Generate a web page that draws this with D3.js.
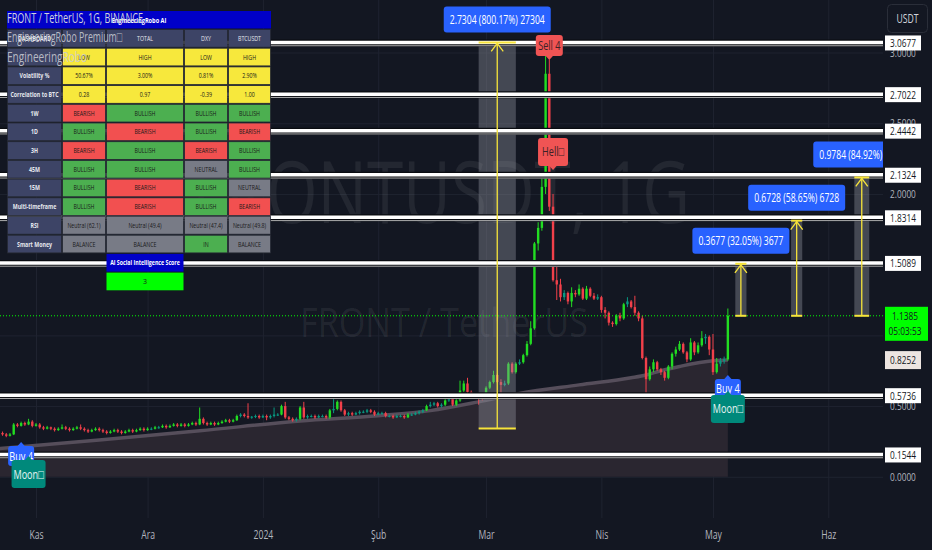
<!DOCTYPE html>
<html><head><meta charset="utf-8">
<script src="https://cdn.jsdelivr.net/npm/d3@7/dist/d3.min.js"></script>
<style>html,body{margin:0;padding:0;background:#131722;overflow:hidden}svg{display:block;font-family:"Open Sans",sans-serif}</style>
</head><body><svg id="chart" width="932" height="550"></svg>
<script>
// ---------------- DATA ----------------
const firstDay = "2023-10-23";
const firstOpen = 0.31;
const closes = [0.30,0.29,0.30,0.37,0.36,0.38,0.37,0.39,0.36,
0.37,0.35,0.34,0.35,0.34,0.33,0.34,0.35,0.34,0.33,
0.34,0.35,0.34,0.33,0.32,0.33,0.34,0.33,0.32,0.31,
0.32,0.33,0.32,0.31,0.32,0.33,0.32,0.33,0.34,0.33,
0.34,0.34,0.35,0.35,0.36,0.35,0.36,0.37,0.36,0.37,
0.36,0.37,0.38,0.37,0.41,0.38,0.37,0.38,0.37,0.38,
0.39,0.40,0.39,0.40,0.43,0.44,0.43,0.42,0.425,0.43,
0.42,0.43,0.42,0.43,0.44,0.44,0.50,0.42,0.41,0.40,
0.41,0.49,0.42,0.43,0.43,0.42,0.43,0.43,0.42,0.47,
0.48,0.53,0.47,0.44,0.45,0.44,0.45,0.46,0.46,0.47,
0.46,0.44,0.45,0.45,0.43,0.43,0.42,0.43,0.43,0.42,
0.44,0.44,0.45,0.46,0.47,0.50,0.51,0.52,0.50,0.51,
0.54,0.55,0.51,0.54,0.61,0.66,0.60,0.58,0.57,0.56,
0.555,0.63,0.67,0.72,0.67,0.65,0.66,0.80,0.74,0.80,
0.81,0.86,0.94,1.05,1.65,1.76,2.05,2.85,1.91,1.39,
1.36,1.27,1.30,1.24,1.30,1.29,1.33,1.26,1.33,1.28,
1.26,1.27,1.18,1.16,1.09,1.08,1.14,1.12,1.22,1.24,
1.20,1.16,1.12,0.84,0.69,0.76,0.81,0.76,0.74,0.70,
0.78,0.87,0.90,0.94,0.88,0.83,0.95,0.88,0.93,0.98,
0.99,0.90,0.74,0.80,0.82,0.83,1.1385];
const highs = [0.32,0.31,0.31,0.38,0.38,0.39,0.39,0.41,0.40,
0.38,0.38,0.36,0.36,0.355,0.35,0.35,0.37,0.36,0.35,
0.35,0.36,0.37,0.35,0.34,0.34,0.35,0.35,0.34,0.33,
0.33,0.34,0.34,0.33,0.33,0.34,0.34,0.34,0.35,0.35,
0.35,0.35,0.36,0.36,0.37,0.37,0.37,0.38,0.38,0.38,
0.38,0.38,0.39,0.39,0.49,0.42,0.39,0.39,0.39,0.39,
0.40,0.41,0.41,0.41,0.44,0.45,0.45,0.52,0.43,0.44,
0.44,0.44,0.44,0.44,0.49,0.45,0.51,0.53,0.43,0.42,
0.42,0.50,0.53,0.44,0.44,0.44,0.44,0.44,0.44,0.48,
0.58,0.54,0.54,0.48,0.46,0.46,0.46,0.47,0.47,0.48,
0.48,0.47,0.46,0.46,0.46,0.44,0.44,0.44,0.44,0.44,
0.45,0.45,0.46,0.47,0.48,0.51,0.53,0.53,0.53,0.52,
0.55,0.59,0.56,0.55,0.68,0.68,0.70,0.61,0.59,0.58,
0.57,0.64,0.68,0.75,0.73,0.69,0.68,0.81,0.81,0.81,
0.83,0.87,0.96,1.10,1.66,1.80,2.15,3.07,2.95,2.00,
1.50,1.40,1.32,1.31,1.34,1.32,1.36,1.34,1.35,1.34,
1.30,1.29,1.28,1.20,1.17,1.10,1.15,1.16,1.23,1.27,
1.25,1.28,1.17,1.14,0.85,0.78,0.83,0.82,0.77,0.75,
0.79,0.88,0.92,0.96,0.95,0.89,0.98,0.96,0.95,1.03,
1.01,1.00,1.01,0.84,0.84,0.85,1.19];
const lows = [0.29,0.28,0.285,0.295,0.35,0.355,0.36,0.365,0.35,
0.355,0.34,0.33,0.335,0.33,0.32,0.325,0.335,0.33,0.32,
0.325,0.335,0.33,0.32,0.31,0.315,0.325,0.32,0.31,0.30,
0.305,0.315,0.31,0.30,0.305,0.315,0.31,0.315,0.325,0.32,
0.325,0.33,0.335,0.34,0.345,0.34,0.345,0.355,0.35,0.355,
0.35,0.355,0.365,0.36,0.365,0.37,0.36,0.365,0.36,0.365,
0.375,0.385,0.38,0.385,0.395,0.42,0.42,0.41,0.41,0.415,
0.41,0.415,0.40,0.41,0.42,0.43,0.435,0.41,0.40,0.39,
0.39,0.40,0.41,0.41,0.42,0.41,0.415,0.42,0.41,0.41,
0.45,0.47,0.46,0.43,0.43,0.43,0.435,0.44,0.45,0.45,
0.45,0.43,0.435,0.44,0.42,0.42,0.41,0.415,0.42,0.41,
0.415,0.43,0.435,0.44,0.45,0.465,0.49,0.50,0.49,0.49,
0.50,0.53,0.50,0.50,0.53,0.60,0.59,0.57,0.56,0.51,
0.54,0.55,0.62,0.66,0.66,0.58,0.64,0.65,0.73,0.73,
0.79,0.80,0.85,0.93,1.04,1.60,1.74,2.00,1.88,1.38,
1.25,1.24,1.25,1.22,1.20,1.27,1.28,1.25,1.25,1.27,
1.25,1.25,1.16,1.12,1.07,1.06,1.07,1.10,1.11,1.20,
1.19,1.14,1.10,0.83,0.58,0.68,0.74,0.75,0.72,0.68,
0.69,0.76,0.85,0.89,0.87,0.81,0.82,0.86,0.87,0.92,
0.94,0.86,0.72,0.73,0.78,0.80,0.82];

const maDates = ["2023-10-22","2023-11-18","2023-12-15","2024-01-11","2024-02-01","2024-02-15","2024-02-28","2024-03-10","2024-03-26","2024-04-09","2024-04-13","2024-04-17","2024-04-22","2024-05-01","2024-05-05"];
const maValues = [0.20,0.26,0.325,0.395,0.432,0.468,0.53,0.59,0.65,0.70,0.72,0.75,0.78,0.82,0.8252];

const levelValues = [3.0677,2.7022,2.4442,2.1324,1.8314,1.5089,0.5736,0.1544];
const lastPrice = 1.1385, lastCountdown = "05:03:53", maLast = 0.8252;
const priceTicks = [0,0.5,1,1.5,2,2.5,3];
const monthTicks = ["2023-11-01","2023-12-01","2024-01-01","2024-02-01","2024-03-01","2024-04-01","2024-05-01","2024-06-01"];
const monthLabels = ["Kas","Ara","2024","Şub","Mar","Nis","May","Haz"];

const measureFrom = ["2024-02-28","2024-05-07","2024-05-22","2024-06-08"];
const measureTo   = ["2024-03-09","2024-05-10","2024-05-25","2024-06-12"];
const measureLow  = [0.3412,1.1385,1.1385,1.1385];
const measureHigh = [3.0716,1.5062,1.8113,2.1169];
const measureText = ["2.7304 (800.17%) 27304","0.3677 (32.05%) 3677","0.6728 (58.65%) 6728","0.9784 (84.92%) 9784"];

const signalDates  = ["2023-10-28","2023-10-30","2024-05-05","2024-05-05","2024-03-18","2024-03-19"];
const signalValues = [0.246,0.147,0.72,0.607,2.947,2.17];
const signalTexts  = ["Buy 4","Moon\u25A1","Buy 4","Moon\u25A1","Sell 4","Hell\u25A1"];
const signalKinds  = ["buy","moon","buy","moon","sell","sell"];

const tableTitle = "EngineeringRobo AI";
const tableHeader = ["DASHBOARD","","TOTAL","DXY","BTCUSDT"];
const tableRows = [
 ["","LOW","HIGH","LOW","HIGH"],
 ["Volatility %","50.67%","3.00%","0.81%","2.90%"],
 ["Correlation to BTC","0.28","0.97","-0.39","1.00"],
 ["1W","BEARISH","BULLISH","BULLISH","BULLISH"],
 ["1D","BULLISH","BEARISH","BULLISH","BEARISH"],
 ["3H","BEARISH","BULLISH","BEARISH","BULLISH"],
 ["45M","BULLISH","BULLISH","NEUTRAL","BULLISH"],
 ["15M","BULLISH","BEARISH","BULLISH","NEUTRAL"],
 ["Multi-timeframe","BULLISH","BEARISH","BULLISH","BEARISH"],
 ["RSI","Neutral (62.1)","Neutral (49.4)","Neutral (47.4)","Neutral (49.8)"],
 ["Smart Money","BALANCE","BALANCE","IN","BALANCE"]
];
const aiTitle = "AI Social Intelligence Score", aiValue = "3";
const legendLines = ["FRONT / TetherUS, 1G, BINANCE","EngineeringRobo Premium\u25A1","EngineeringRobo"];
const watermark1 = "FRONTUSDT, 1G", watermark2 = "FRONT / TetherUS";

// ---------------- DRAW ----------------
const W=932,H=550,PR=883,PB=518;
const parse = d3.utcParse("%Y-%m-%d");
const x = d3.scaleUtc().domain([new Date(Date.UTC(2023,9,22,7,40)), new Date(Date.UTC(2024,5,15,17,0))]).range([0,PR]);
const y = d3.scaleLinear().domain([0,3.3715]).range([476.8,0]);
const svg = d3.select("#chart");
function sq(sel,f){sel.each(function(){const L=this.getComputedTextLength();d3.select(this).attr("textLength",L*f).attr("lengthAdjust","spacingAndGlyphs");});return sel;}
function fitW(sel,w){sel.attr("textLength",w).attr("lengthAdjust","spacingAndGlyphs");return sel;}

svg.append("rect").attr("width",W).attr("height",H).attr("fill","#131722");
svg.append("defs").append("clipPath").attr("id","pc").append("rect").attr("width",PR).attr("height",PB);
const plot = svg.append("g").attr("clip-path","url(#pc)");

// grid
const gy = plot.append("g").call(d3.axisLeft(y).tickValues(priceTicks).tickSize(-PR).tickFormat(""));
gy.select(".domain").remove(); gy.selectAll("text").remove(); gy.selectAll("line").attr("stroke","#1f2330");
const gx = plot.append("g").attr("transform",`translate(0,${PB})`).call(d3.axisBottom(x).tickValues(monthTicks.map(parse)).tickSize(-PB).tickFormat(""));
gx.select(".domain").remove(); gx.selectAll("text").remove(); gx.selectAll("line").attr("stroke","#1f2330");

// watermark
const wm1 = plot.append("text").attr("x",192).attr("y",223).attr("font-size",86).attr("fill","rgba(255,255,255,0.07)").text(watermark1);
fitW(wm1,498);
const wm2 = plot.append("text").attr("x",300).attr("y",337).attr("font-size",40).attr("fill","rgba(255,255,255,0.07)").text(watermark2);
fitW(wm2,288);

// MA area + line
const ma = maDates.map((d,i)=>({date:parse(d),v:maValues[i]}));
plot.append("path").datum(ma).attr("d",d3.area().x(d=>x(d.date)).y0(y(0)).y1(d=>y(d.v)).curve(d3.curveMonotoneX)).attr("fill","#2a2630");
plot.append("path").datum(ma).attr("d",d3.line().x(d=>x(d.date)).y(d=>y(d.v)).curve(d3.curveMonotoneX)).attr("fill","none").attr("stroke","#564e5b").attr("stroke-width",3.5);

// candles
const t0 = parse(firstDay);
const candles = closes.map((c,i)=>({date:d3.utcDay.offset(t0,i),o:i?closes[i-1]:firstOpen,h:highs[i],l:lows[i],c}));
const col = d=> d.c<d.o ? "#f2404a" : ((d.c-d.o)/d.o>0.025 ? "#22dd22" : "#089981");
const cg = plot.append("g");
cg.selectAll("line").data(candles).join("line").attr("x1",d=>x(d.date)).attr("x2",d=>x(d.date)).attr("y1",d=>y(d.h)).attr("y2",d=>y(d.l)).attr("stroke",col).attr("stroke-width",1);
cg.selectAll("rect").data(candles).join("rect").attr("x",d=>x(d.date)-1.2).attr("width",2.4)
 .attr("y",d=>y(Math.max(d.o,d.c))).attr("height",d=>Math.max(1,Math.abs(y(d.o)-y(d.c)))).attr("fill",col);

// measurement rects
const ms = measureText.map((t,i)=>({a:parse(measureFrom[i]),b:parse(measureTo[i]),lo:measureLow[i],hi:measureHigh[i],t}));
plot.selectAll(".mr").data(ms).join("rect").attr("class","mr").attr("x",d=>x(d.a)).attr("width",d=>x(d.b)-x(d.a))
 .attr("y",d=>y(d.hi)).attr("height",d=>y(d.lo)-y(d.hi)).attr("fill","rgba(150,153,162,0.38)");

// level lines
const lv = plot.append("g");
lv.selectAll(".lb").data(levelValues).join("line").attr("class","lb").attr("x1",0).attr("x2",PR).attr("y1",d=>y(d)).attr("y2",d=>y(d)).attr("stroke","#0a0c11").attr("stroke-width",7);
lv.selectAll(".lw").data(levelValues).join("line").attr("class","lw").attr("x1",0).attr("x2",PR).attr("y1",d=>y(d)-0.5).attr("y2",d=>y(d)-0.5).attr("stroke","#ffffff").attr("stroke-width",3.5);
lv.selectAll(".lt").data(levelValues).join("line").attr("class","lt").attr("x1",0).attr("x2",PR).attr("y1",d=>y(d)+2.8).attr("y2",d=>y(d)+2.8).attr("stroke","#d8d8d8").attr("stroke-width",0.8);

// current price dotted
plot.append("line").attr("x1",0).attr("x2",PR).attr("y1",y(lastPrice)).attr("y2",y(lastPrice)).attr("stroke","#00ff00").attr("stroke-width",1).attr("stroke-dasharray","1,2");

// yellow arrows
const yel="#f7e43a";
ms.forEach(d=>{
  const xa=x(d.a), xb=x(d.b), xm=(xa+xb)/2, yt=y(d.hi), yb=y(d.lo);
  plot.append("line").attr("x1",xa).attr("x2",xb).attr("y1",yt).attr("y2",yt).attr("stroke",yel).attr("stroke-width",2);
  plot.append("line").attr("x1",xa).attr("x2",xb).attr("y1",yb).attr("y2",yb).attr("stroke",yel).attr("stroke-width",2);
  plot.append("line").attr("x1",xm).attr("x2",xm).attr("y1",yt).attr("y2",yb).attr("stroke",yel).attr("stroke-width",1.3);
  plot.append("path").attr("d",`M${xm-6},${yt+9}L${xm},${yt+1}L${xm+6},${yt+9}`).attr("fill","none").attr("stroke",yel).attr("stroke-width",1.3);
  const bw = d.t.length>20?107:97, bh=26;
  plot.append("rect").attr("x",xm-bw/2).attr("y",yt-10-bh).attr("width",bw).attr("height",bh).attr("rx",3).attr("fill","#2962ff");
  fitW(plot.append("text").attr("x",xm-bw/2+6).attr("y",yt-10-bh/2+4.5).attr("font-size",13).attr("fill","#ffffff").text(d.t),bw-12);
});

// signals
const kindStyle = {buy:{f:"#2962ff",t:"#ffffff",w:26,h:20,dir:1},moon:{f:"#00897b",t:"#e8f5f3",w:34,h:28,dir:1},sell:{f:"#f05454",t:"#3b2226",w:27,h:21,dir:-1}};
signalTexts.forEach((t,i)=>{
  const s=kindStyle[signalKinds[i]]; let st=s;
  if(t.startsWith("Hell")) st={...s,w:30,h:28};
  const px=x(parse(signalDates[i])), py=y(signalValues[i]);
  const g=plot.append("g");
  let by;
  if(st.dir>0){ by=py+4; g.append("path").attr("d",`M${px-4},${by+0.5}L${px},${py}L${px+4},${by+0.5}Z`).attr("fill",st.f); }
  else { by=py-4-st.h; g.append("path").attr("d",`M${px-4},${py-4.5}L${px},${py}L${px+4},${py-4.5}Z`).attr("fill",st.f); }
  g.append("rect").attr("x",px-st.w/2).attr("y",by).attr("width",st.w).attr("height",st.h).attr("rx",3).attr("fill",st.f);
  sq(g.append("text").attr("x",px).attr("y",by+st.h/2+4.5).attr("text-anchor","middle").attr("font-size",13).attr("fill",st.t).text(t),0.7);
});

// right axis
const ax = svg.append("g").attr("transform",`translate(${PR},0)`).call(d3.axisRight(y).tickValues(priceTicks).tickSize(0).tickPadding(7).tickFormat(d3.format(".4f")));
ax.select(".domain").remove();
ax.selectAll("text").attr("fill","#b2b5be").attr("font-size",11.5).attr("font-family","Open Sans");
sq(ax.selectAll("text"),0.72);
// bottom axis
const bx = svg.append("g").attr("transform",`translate(0,${PB})`).call(d3.axisBottom(x).tickValues(monthTicks.map(parse)).tickSize(0).tickPadding(12).tickFormat((d,i)=>monthLabels[i]));
bx.select(".domain").remove();
bx.selectAll("text").attr("fill","#b2b5be").attr("font-size",12).attr("font-family","Open Sans");
sq(bx.selectAll("text"),0.72);

// axis labels for levels
const al = svg.append("g");
levelValues.forEach(v=>{
  al.append("rect").attr("x",885).attr("y",y(v)-7.5).attr("width",36).attr("height",15).attr("fill","#ffffff");
  sq(al.append("text").attr("x",903).attr("y",y(v)+4).attr("text-anchor","middle").attr("font-size",11.5).attr("fill","#131722").text(v.toFixed(4)),0.72);
});
al.append("rect").attr("x",885).attr("y",y(maLast)-9).attr("width",36).attr("height",18).attr("fill","#ede5e1");
sq(al.append("text").attr("x",903).attr("y",y(maLast)+4).attr("text-anchor","middle").attr("font-size",11.5).attr("fill","#131722").text(maLast.toFixed(4)),0.72);
al.append("rect").attr("x",885).attr("y",y(lastPrice)-9).attr("width",43).attr("height",34).attr("fill","#00ff00");
sq(al.append("text").attr("x",905).attr("y",y(lastPrice)+4).attr("text-anchor","middle").attr("font-size",11.5).attr("fill","#131722").text(lastPrice.toFixed(4)),0.72);
sq(al.append("text").attr("x",905).attr("y",y(lastPrice)+19).attr("text-anchor","middle").attr("font-size",11.5).attr("fill","#131722").text(lastCountdown),0.72);
// USDT button
svg.append("rect").attr("x",887.5).attr("y",4.5).attr("width",40).attr("height",28).attr("rx",4).attr("fill","#131722").attr("stroke","#2a2e39");
sq(svg.append("text").attr("x",907.5).attr("y",23).attr("text-anchor","middle").attr("font-size",12).attr("fill","#d1d4dc").text("USDT"),0.72);

// table
const tg = svg.append("g");
const colX=[7,62,106,184,228,271], rowH=18.7, row0=29;
tg.append("rect").attr("x",7).attr("y",11).attr("width",264).attr("height",17.5).attr("fill","#0000c8");
sq(tg.append("text").attr("x",139).attr("y",22.5).attr("text-anchor","middle").attr("font-size",7.5).attr("font-weight","bold").attr("fill","#ffffff").text(tableTitle),0.75);
const allRows=[tableHeader,...tableRows];
function fillOf(r,c,v){ if(r===0||c===0) return "#3d4466"; if(r<=3) return "#f7e83c"; if(v==="BULLISH"||v==="IN") return "#4caf50"; if(v==="BEARISH") return "#f25050"; return "#787b86"; }
allRows.forEach((row,r)=>{
  row.forEach((v,c)=>{
    const x0=colX[c], x1=colX[c+1], yy=row0+r*rowH;
    tg.append("rect").attr("x",x0+0.5).attr("y",yy+0.5).attr("width",x1-x0-1).attr("height",rowH-1).attr("fill",fillOf(r,c,v)).attr("stroke","#262a35").attr("stroke-width",0.8);
    if(v) sq(tg.append("text").attr("x",(x0+x1)/2).attr("y",yy+rowH/2+2.5).attr("text-anchor","middle").attr("font-size",7).attr("font-weight",c===0?"bold":"normal").attr("fill",(r===0||c===0)?"#e6e8ee":"#1a1a1a").text(v),0.75);
  });
});
const aiY=row0+allRows.length*rowH;
tg.append("rect").attr("x",colX[2]+0.5).attr("y",aiY+0.5).attr("width",colX[3]-colX[2]-1).attr("height",rowH-1).attr("fill","#0000c8");
sq(tg.append("text").attr("x",(colX[2]+colX[3])/2).attr("y",aiY+rowH/2+2.5).attr("text-anchor","middle").attr("font-size",7).attr("font-weight","bold").attr("fill","#ffffff").text(aiTitle),0.75);
tg.append("rect").attr("x",colX[2]+0.5).attr("y",aiY+rowH+0.5).attr("width",colX[3]-colX[2]-1).attr("height",rowH-1).attr("fill","#00ff00");
tg.append("text").attr("x",(colX[2]+colX[3])/2).attr("y",aiY+rowH*1.5+2.5).attr("text-anchor","middle").attr("font-size",7).attr("fill","#1a1a1a").text(aiValue);

// legend over table
const lg=svg.append("g");
fitW(lg.append("text").attr("x",7).attr("y",23).attr("font-size",14).attr("fill","#d1d4dc").text(legendLines[0]),136);
fitW(lg.append("text").attr("x",7).attr("y",42).attr("font-size",14).attr("fill","rgba(200,202,210,0.9)").text(legendLines[1]),115);
fitW(lg.append("text").attr("x",7).attr("y",62).attr("font-size",14).attr("fill","rgba(200,202,210,0.9)").text(legendLines[2]),80);
</script></body></html>
